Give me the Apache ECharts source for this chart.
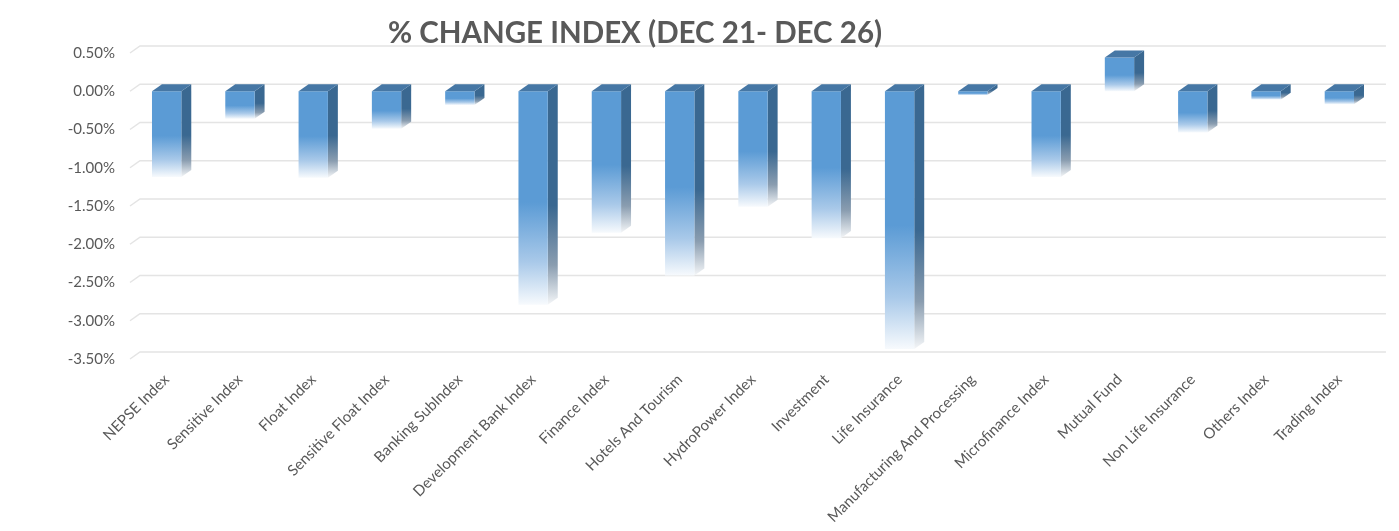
<!DOCTYPE html>
<html><head><meta charset="utf-8">
<script src="https://cdn.jsdelivr.net/npm/echarts@6/dist/echarts.min.js"></script>
<style>html,body{margin:0;padding:0;background:#fff}#c{width:1399px;height:531px}</style>
</head><body><div id="c"></div>
<script>
const categories = ["NEPSE Index","Sensitive Index","Float Index","Sensitive Float Index","Banking SubIndex","Development Bank Index","Finance Index","Hotels And Tourism","HydroPower Index","Investment","Life Insurance","Manufacturing And Processing","Microfinance Index","Mutual Fund","Non Life Insurance","Others Index","Trading Index"];
const values = [-1.12,-0.36,-1.13,-0.49,-0.18,-2.79,-1.85,-2.41,-1.51,-1.92,-3.37,-0.05,-1.12,0.44,-0.54,-0.11,-0.17];
const yTicks = [0.5,0,-0.5,-1,-1.5,-2,-2.5,-3,-3.5];
const titleText = "% CHANGE INDEX (DEC 21- DEC 26)";

const FONT = "Lato";
const chart = echarts.init(document.getElementById('c'), null, {renderer:'canvas'});

function depth(band){ return {dx: band*0.136, dy: -band*0.096}; }

function renderGrid(params, api){
  const v = api.value(1);
  const band = api.size([1,0])[0];
  const d = depth(band);
  const L = api.coord([0, v])[0] - band/2;
  const R = api.coord([categories.length-1, v])[0] + band/2;
  const y = api.coord([0, v])[1];
  return {type:'polyline', shape:{points:[[L,y],[L+d.dx,y+d.dy],[R+d.dx,y+d.dy]]},
    style:{stroke:'#e4e4e4', lineWidth:1.5, fill:null}};
}

function renderBar(params, api){
  const i = api.value(0), v = api.value(1);
  const p0 = api.coord([i, 0]);
  const p1 = api.coord([i, v]);
  const band = api.size([1,0])[0];
  const w = band*0.4;
  const d = depth(band);
  const xl = p0[0] - w/2;
  const yTop = Math.min(p0[1], p1[1]);
  const yBot = Math.max(p0[1], p1[1]);
  const frontFill = new echarts.graphic.LinearGradient(0,0,0,1,[
    {offset:0,color:'#5B9BD5'},{offset:0.52,color:'#5B9BD5'},
    {offset:0.8,color:'#a9c9e9'},{offset:1,color:'#f7fafd'}]);
  const sideFill = new echarts.graphic.LinearGradient(0,0,0,1,[
    {offset:0,color:'#3A6891'},{offset:0.55,color:'#3A6891'},
    {offset:0.82,color:'#8a9db0'},{offset:1,color:'#f4f6f8'}]);
  return {type:'group', children:[
    {type:'polygon', shape:{points:[[xl+w,yTop],[xl+w+d.dx,yTop+d.dy],[xl+w+d.dx,yBot+d.dy],[xl+w,yBot]]}, style:{fill:sideFill}},
    {type:'rect', shape:{x:xl, y:yTop, width:w, height:yBot-yTop}, style:{fill:frontFill}},
    {type:'polygon', shape:{points:[[xl,yTop],[xl+w,yTop],[xl+w+d.dx,yTop+d.dy],[xl+d.dx,yTop+d.dy]]}, style:{fill:'#4677A5'}}
  ]};
}

chart.setOption({
  animation:false,
  backgroundColor:'#ffffff',
  title:{text:titleText, left:630, top:13, textAlign:'center',
    textStyle:{fontFamily:FONT, fontSize:29.5, fontWeight:'bold', color:'#595959'}},
  grid:{left:130, right:23, top:53, bottom:172},
  xAxis:{type:'category', data:categories,
    axisLine:{show:false}, axisTick:{show:false}, splitLine:{show:false},
    axisLabel:{rotate:45, interval:0, margin:18, fontFamily:FONT, fontSize:15, color:'#595959'}},
  yAxis:{type:'value', min:-3.5, max:0.5, interval:0.5,
    axisLine:{show:false}, axisTick:{show:false}, splitLine:{show:false},
    axisLabel:{margin:15, fontFamily:FONT, fontSize:15, color:'#595959',
      formatter:v=>v.toFixed(2)+'%'}},
  series:[
    {type:'custom', renderItem:renderGrid, z:1, silent:true, clip:false,
      data:yTicks.map(t=>[0,t]), encode:{x:0,y:1}},
    {type:'custom', renderItem:renderBar, z:2, clip:false,
      data:values.map((v,i)=>[i,v]), encode:{x:0,y:1}}
  ]
});
</script></body></html>
